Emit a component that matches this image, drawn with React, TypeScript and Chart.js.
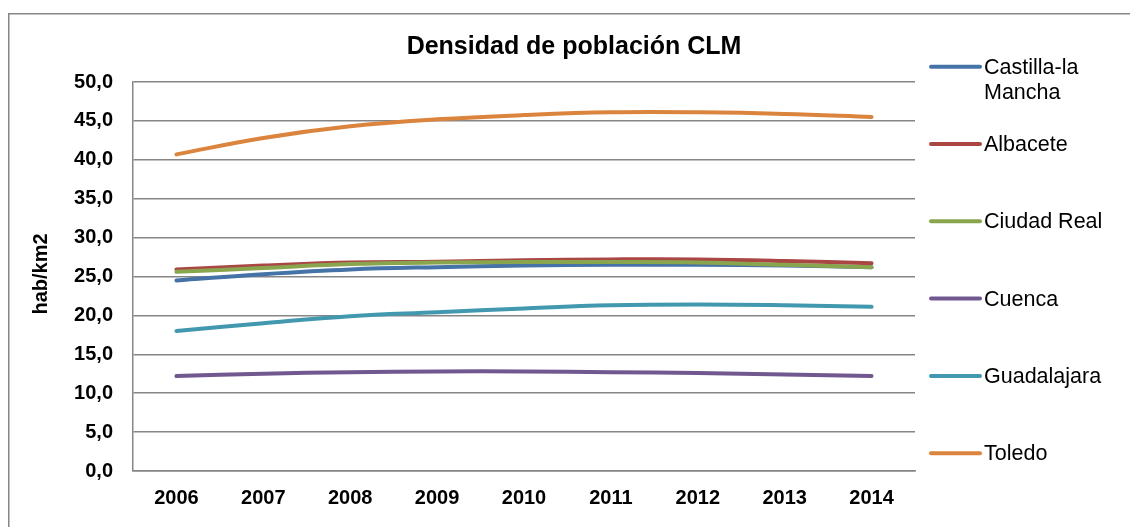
import React, { useEffect, useRef } from "react";
import { Chart, registerables } from "chart.js";

Chart.register(...registerables);

const title = "Densidad de población CLM";
const yAxisTitle = "hab/km2";
const years = ["2006", "2007", "2008", "2009", "2010", "2011", "2012", "2013", "2014"];

const seriesNames = ["Castilla-la Mancha", "Albacete", "Ciudad Real", "Cuenca", "Guadalajara", "Toledo"];
const legendLines = [["Castilla-la", "Mancha"], ["Albacete"], ["Ciudad Real"], ["Cuenca"], ["Guadalajara"], ["Toledo"]];
const seriesColors = ["#4572A7", "#AA4643", "#89A54E", "#71588F", "#4198AF", "#DB843D"];

const castillaLaMancha = [24.5, 25.3, 25.9, 26.2, 26.4, 26.5, 26.5, 26.4, 26.2];
const albacete = [25.9, 26.4, 26.8, 26.9, 27.1, 27.2, 27.2, 27.0, 26.7];
const ciudadReal = [25.6, 26.1, 26.6, 26.8, 26.85, 26.85, 26.8, 26.5, 26.2];
const cuenca = [12.2, 12.5, 12.7, 12.8, 12.8, 12.7, 12.6, 12.4, 12.2];
const guadalajara = [18.0, 19.0, 19.9, 20.4, 20.9, 21.3, 21.4, 21.3, 21.1];
const toledo = [40.7, 42.8, 44.3, 45.2, 45.75, 46.1, 46.1, 45.9, 45.5];

const seriesValues = [castillaLaMancha, albacete, ciudadReal, cuenca, guadalajara, toledo];

const yMin = 0;
const yMax = 50;
const yStep = 5;

const W = 1130;
const H = 527;
const FONT = "'Liberation Sans', Arial, sans-serif";

const decorPlugin = {
  id: "decor",
  afterDraw(chart: any) {
    const ctx = chart.ctx as CanvasRenderingContext2D;
    ctx.save();
    // outer border
    ctx.strokeStyle = "#868686";
    ctx.lineWidth = 1.5;
    ctx.beginPath();
    ctx.moveTo(8.75, H + 5);
    ctx.lineTo(8.75, 13.75);
    ctx.lineTo(W + 5, 13.75);
    ctx.stroke();

    // title
    ctx.fillStyle = "#000";
    ctx.font = `bold 25px ${FONT}`;
    ctx.textAlign = "center";
    ctx.textBaseline = "middle";
    ctx.fillText(title, 574, 47);

    // y-axis title
    ctx.save();
    ctx.translate(41, 274);
    ctx.rotate(-Math.PI / 2);
    ctx.font = `bold 20px ${FONT}`;
    ctx.fillText(yAxisTitle, 0, 0);
    ctx.restore();

    // legend
    ctx.textAlign = "left";
    ctx.font = `21.5px ${FONT}`;
    const x0 = 931;
    const x1 = 980;
    legendLines.forEach((lines, i) => {
      const y = 66.7 + 77.3 * i;
      ctx.strokeStyle = seriesColors[i];
      ctx.lineWidth = 4;
      ctx.lineCap = "round";
      ctx.beginPath();
      ctx.moveTo(x0, y);
      ctx.lineTo(x1, y);
      ctx.stroke();
      ctx.fillStyle = "#000";
      lines.forEach((t, j) => {
        ctx.fillText(t, 984, y + 1 + j * 25);
      });
    });
    ctx.restore();
  },
};

export default function App() {
  const ref = useRef<HTMLCanvasElement | null>(null);

  useEffect(() => {
    if (!ref.current) return;
    const n = seriesNames.length;
    const chart = new Chart(ref.current, {
      type: "line",
      data: {
        labels: years,
        datasets: seriesNames.map((name, i) => ({
          label: name,
          data: seriesValues[i],
          borderColor: seriesColors[i],
          backgroundColor: seriesColors[i],
          borderWidth: 4,
          borderCapStyle: "round" as const,
          borderJoinStyle: "round" as const,
          pointRadius: 0,
          pointHoverRadius: 0,
          tension: 0.4,
          fill: false,
          order: n - i,
        })),
      },
      options: {
        responsive: false,
        animation: false,
        events: [],
        layout: { padding: { left: 0, top: 82, right: W - 915, bottom: 0 } },
        plugins: {
          legend: { display: false },
          title: { display: false },
          tooltip: { enabled: false },
        },
        scales: {
          x: {
            offset: true,
            grid: { display: false, drawTicks: false },
            border: { display: true, color: "#868686", width: 1.5 },
            ticks: {
              color: "#000",
              font: { family: FONT, size: 20, weight: "bold" },
              padding: 15,
              maxRotation: 0,
              autoSkip: false,
            },
            afterFit(scale: any) {
              scale.height = H - 471;
            },
          },
          y: {
            min: yMin,
            max: yMax,
            grid: { color: "#868686", lineWidth: 1.5, drawTicks: false },
            border: { display: true, color: "#868686", width: 1.5 },
            ticks: {
              stepSize: yStep,
              color: "#000",
              font: { family: FONT, size: 20, weight: "bold" },
              padding: 20,
              callback: (v: any) => Number(v).toFixed(1).replace(".", ","),
            },
            afterFit(scale: any) {
              scale.width = 133;
            },
          },
        },
      },
      plugins: [decorPlugin],
    });
    return () => chart.destroy();
  }, []);

  return (
    <div style={{ position: "absolute", left: 0, top: 0, width: W, height: H, background: "#fff" }}>
      <canvas ref={ref} width={W} height={H} style={{ display: "block", width: W, height: H }} />
    </div>
  );
}
